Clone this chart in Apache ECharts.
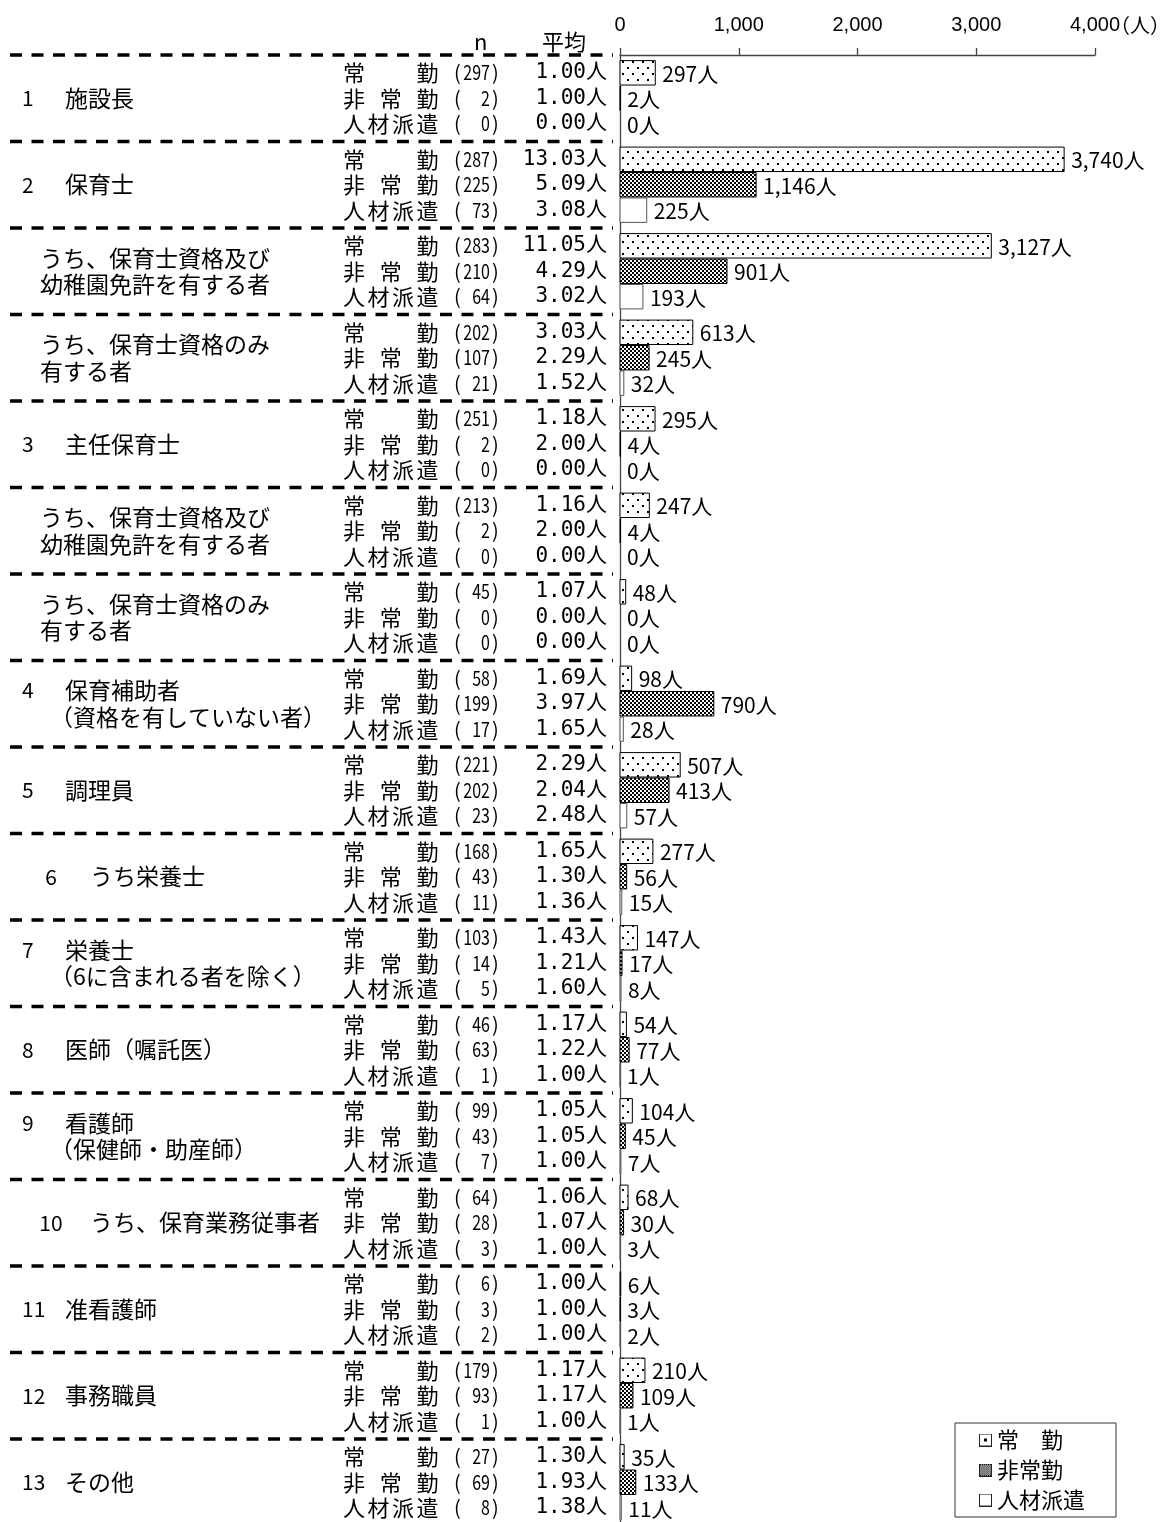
<!DOCTYPE html>
<html>
<head>
<meta charset="utf-8">
<script src="https://cdn.jsdelivr.net/npm/echarts@6/dist/echarts.min.js"></script>
<style>
  html, body { margin: 0; padding: 0; background: #fff; }
  #chart { width: 1168px; height: 1522px; }
</style>
</head>
<body>
<div id="chart"></div>
<script>
// ---- data ----
const groupNumbers = ['1', '2', '', '', '3', '', '', '4', '5', '6', '7', '8', '9', '10', '11', '12', '13'];
const groupNames = [
  ['施設長'],
  ['保育士'],
  ['うち、保育士資格及び', '幼稚園免許を有する者'],
  ['うち、保育士資格のみ', '有する者'],
  ['主任保育士'],
  ['うち、保育士資格及び', '幼稚園免許を有する者'],
  ['うち、保育士資格のみ', '有する者'],
  ['保育補助者', '（資格を有していない者）'],
  ['調理員'],
  ['うち栄養士'],
  ['栄養士', '（6に含まれる者を除く）'],
  ['医師（嘱託医）'],
  ['看護師', '（保健師・助産師）'],
  ['うち、保育業務従事者'],
  ['准看護師'],
  ['事務職員'],
  ['その他']
];
const staffTypes = ['常勤', '非常勤', '人材派遣'];

const fullTimeN     = [297, 287, 283, 202, 251, 213, 45, 58, 221, 168, 103, 46, 99, 64, 6, 179, 27];
const fullTimeMean  = [1.00, 13.03, 11.05, 3.03, 1.18, 1.16, 1.07, 1.69, 2.29, 1.65, 1.43, 1.17, 1.05, 1.06, 1.00, 1.17, 1.30];
const fullTimeTotal = [297, 3740, 3127, 613, 295, 247, 48, 98, 507, 277, 147, 54, 104, 68, 6, 210, 35];

const partTimeN     = [2, 225, 210, 107, 2, 2, 0, 199, 202, 43, 14, 63, 43, 28, 3, 93, 69];
const partTimeMean  = [1.00, 5.09, 4.29, 2.29, 2.00, 2.00, 0.00, 3.97, 2.04, 1.30, 1.21, 1.22, 1.05, 1.07, 1.00, 1.17, 1.93];
const partTimeTotal = [2, 1146, 901, 245, 4, 4, 0, 790, 413, 56, 17, 77, 45, 30, 3, 109, 133];

const dispatchN     = [0, 73, 64, 21, 0, 0, 0, 17, 23, 11, 5, 1, 7, 3, 2, 1, 8];
const dispatchMean  = [0.00, 3.08, 3.02, 1.52, 0.00, 0.00, 0.00, 1.65, 2.48, 1.36, 1.60, 1.00, 1.00, 1.00, 1.00, 1.00, 1.38];
const dispatchTotal = [0, 225, 193, 32, 0, 0, 0, 28, 57, 15, 8, 1, 7, 3, 2, 1, 11];

const xTicks = [0, 1000, 2000, 3000, 4000];

// ---- layout constants ----
const GROUP_SPAN = 17;              // y units per group
const ROW_POS = [3.5, 8.5, 13.5];   // row centres inside a group
const BAR_THICK = 4.8;              // bar thickness in y units
const GROUP_PX = 86.5;              // pixel height of one group
const NAME_COLS = [[0, 3], [0, 1.5, 3], [0, 1, 2, 3]];
const CJK = '"Noto Sans CJK JP"';
const MONO = '"DejaVu Sans Mono", "Noto Sans CJK JP"';

const nByType = [fullTimeN, partTimeN, dispatchN];
const meanByType = [fullTimeMean, partTimeMean, dispatchMean];
const totalByType = [fullTimeTotal, partTimeTotal, dispatchTotal];

const fmt = v => v.toLocaleString('en-US');

// ---- fill patterns ----
function makeTile(w, h, draw) {
  const c = document.createElement('canvas');
  c.width = w; c.height = h;
  const ctx = c.getContext('2d');
  ctx.fillStyle = '#fff';
  ctx.fillRect(0, 0, w, h);
  ctx.fillStyle = '#000';
  draw(ctx);
  return c;
}
const dotTile = makeTile(10, 12, ctx => { ctx.fillRect(2, 1, 2, 2); ctx.fillRect(7, 7, 2, 2); });
const checkTile = makeTile(4, 4, ctx => { ctx.fillRect(0, 0, 2, 2); ctx.fillRect(2, 2, 2, 2); });
const fills = [
  { image: dotTile, repeat: 'repeat' },
  { image: checkTile, repeat: 'repeat' },
  '#fff'
];
const strokes = ['#000', '#000', '#555'];

function legendIcon(kind) {
  const c = document.createElement('canvas');
  c.width = 13; c.height = 13;
  const ctx = c.getContext('2d');
  ctx.fillStyle = '#fff';
  ctx.fillRect(0, 0, 13, 13);
  ctx.fillStyle = '#000';
  if (kind === 0) ctx.fillRect(5, 5, 3, 3);
  if (kind === 1) {
    for (let y = 1; y < 12; y++) for (let x = 1; x < 12; x++) if ((x + y) % 2 === 0) ctx.fillRect(x, y, 1, 1);
  }
  ctx.strokeStyle = '#222';
  ctx.lineWidth = 1;
  ctx.strokeRect(0.5, 0.5, 12, 12);
  return 'image://' + c.toDataURL();
}

// ---- series ----
const barSeries = staffTypes.map((name, t) => ({
  name,
  type: 'custom',
  clip: false,
  coordinateSystem: 'cartesian2d',
  encode: { x: 0, y: 1 },
  data: totalByType[t].map((v, g) => [v, g]),
  renderItem(params, api) {
    const value = api.value(0);
    const g = api.value(1);
    const yc = g * GROUP_SPAN + ROW_POS[t];
    const p0 = api.coord([0, yc]);
    const p1 = api.coord([value, yc]);
    const h = api.size([0, BAR_THICK])[1];
    const children = [];
    if (value > 0) {
      children.push({
        type: 'rect',
        shape: { x: p0[0], y: p0[1] - h / 2, width: p1[0] - p0[0], height: h },
        style: { fill: fills[t], stroke: strokes[t], lineWidth: 1 }
      });
    }
    children.push({
      type: 'text',
      x: p1[0] + 7, y: p1[1] + 1,
      style: { text: fmt(value) + '人', fill: '#000', font: '21px ' + CJK, verticalAlign: 'middle', align: 'left' }
    });
    return { type: 'group', children };
  }
}));

// row labels: staff type, (n), mean
const rowData = [];
groupNames.forEach((_, g) => staffTypes.forEach((__, t) => rowData.push([0, g * GROUP_SPAN + ROW_POS[t], g, t])));
const rowLabelSeries = {
  type: 'custom',
  clip: false,
  silent: true,
  coordinateSystem: 'cartesian2d',
  encode: { x: 0, y: 1 },
  data: rowData,
  renderItem(params, api) {
    const yv = api.value(1), g = api.value(2), t = api.value(3);
    const y = api.coord([0, yv])[1];
    const chars = staffTypes[t].split('');
    const children = chars.map((ch, i) => ({
      type: 'text', x: 343 + NAME_COLS[t][i] * 24.5, y,
      style: { text: ch, fill: '#000', font: '22px ' + CJK, verticalAlign: 'middle', align: 'left' }
    }));
    children.push(
      { type: 'text', x: 454, y, style: { text: '(', fill: '#000', font: '20px ' + CJK, verticalAlign: 'middle', align: 'left' } },
      { type: 'text', x: 490, y, scaleX: 0.8,
        style: { text: String(nByType[t][g]), fill: '#000', font: '20px ' + CJK, verticalAlign: 'middle', align: 'right' } },
      { type: 'text', x: 492, y, style: { text: ')', fill: '#000', font: '20px ' + CJK, verticalAlign: 'middle', align: 'left' } },
      { type: 'text', x: 607, y, style: { text: meanByType[t][g].toFixed(2) + '人', fill: '#000', font: '21px ' + MONO, verticalAlign: 'middle', align: 'right' } }
    );
    return { type: 'group', children };
  }
};

// group names on the far left
const groupLabelSeries = {
  type: 'custom',
  clip: false,
  silent: true,
  coordinateSystem: 'cartesian2d',
  encode: { x: 0, y: 1 },
  data: groupNames.map((_, g) => [0, g * GROUP_SPAN + GROUP_SPAN / 2, g]),
  renderItem(params, api) {
    const g = api.value(2);
    const yc = api.coord([0, api.value(1)])[1];
    const lines = groupNames[g];
    const num = groupNumbers[g];
    const sub = lines[0].startsWith('うち');
    const lh = 26.5;
    const children = [];
    const font = '23px ' + CJK;
    lines.forEach((line, i) => {
      const y = yc + (i - (lines.length - 1) / 2) * lh;
      let x;
      if (!num) x = 40;
      else if (i === 0) x = sub ? 90 : 65;
      else x = 50;
      children.push({ type: 'text', x, y, style: { text: line, fill: '#000', font, verticalAlign: 'middle', align: 'left' } });
    });
    if (num) {
      const y = yc - (lines.length - 1) / 2 * lh;
      children.push({
        type: 'text', x: sub ? 51 : 22, y,
        style: { text: num, fill: '#000', font: '21px ' + CJK, verticalAlign: 'middle', align: sub ? 'center' : 'left' }
      });
    }
    return { type: 'group', children };
  }
};

// dashed separators between groups
const separatorSeries = {
  type: 'custom',
  clip: false,
  silent: true,
  coordinateSystem: 'cartesian2d',
  encode: { x: 0, y: 1 },
  data: groupNames.map((_, g) => [0, g * GROUP_SPAN]),
  renderItem(params, api) {
    const y = api.coord([0, api.value(1)])[1];
    return {
      type: 'line',
      shape: { x1: 10, y1: y, x2: 613, y2: y },
      style: { stroke: '#000', lineWidth: 3.5, lineDash: [12, 9.5] }
    };
  }
};

const chart = echarts.init(document.getElementById('chart'), null, { renderer: 'canvas' });
chart.setOption({
  animation: false,
  backgroundColor: '#fff',
  grid: {
    left: 620, right: 73, top: 55,
    height: GROUP_PX * groupNames.length,
    containLabel: false,
    outerBoundsMode: 'none'
  },
  xAxis: {
    type: 'value',
    position: 'top',
    min: xTicks[0],
    max: xTicks[xTicks.length - 1],
    interval: xTicks[1] - xTicks[0],
    axisLine: { show: true, lineStyle: { color: '#444', width: 1.3 } },
    axisTick: { show: true, inside: false, length: 7, lineStyle: { color: '#444', width: 1.3 } },
    splitLine: { show: false },
    axisLabel: { margin: 20, color: '#000', fontSize: 20, fontFamily: '"Liberation Sans", Arial', formatter: v => fmt(v) },
    name: '（人）',
    nameLocation: 'end',
    nameGap: 15,
    nameMoveOverlap: false,
    nameTextStyle: { color: '#000', fontSize: 20, fontFamily: CJK, align: 'left', verticalAlign: 'bottom', padding: [0, 0, 20, 0] }
  },
  yAxis: {
    type: 'value',
    inverse: true,
    min: 0,
    max: GROUP_SPAN * groupNames.length,
    axisLine: { show: true, lineStyle: { color: '#444', width: 1.3 } },
    axisTick: { show: false },
    axisLabel: { show: false },
    splitLine: { show: false }
  },
  legend: {
    orient: 'vertical',
    left: 955,
    top: 1423,
    padding: [6, 31, 6, 24],
    itemGap: 8,
    itemWidth: 13,
    itemHeight: 13,
    borderColor: '#333',
    borderWidth: 1,
    backgroundColor: '#fff',
    selectedMode: false,
    textStyle: { color: '#000', fontSize: 22, fontFamily: CJK },
    formatter: name => (name === '常勤' ? '常　勤' : name),
    data: staffTypes.map((name, t) => ({ name, icon: legendIcon(t) }))
  },
  graphic: [
    { type: 'text', left: 474, top: 31, style: { text: 'n', fill: '#000', font: '22px ' + CJK } },
    { type: 'text', left: 542, top: 31, style: { text: '平均', fill: '#000', font: '22px ' + CJK } }
  ],
  series: [separatorSeries, groupLabelSeries, rowLabelSeries, ...barSeries]
});
</script>
</body>
</html>
